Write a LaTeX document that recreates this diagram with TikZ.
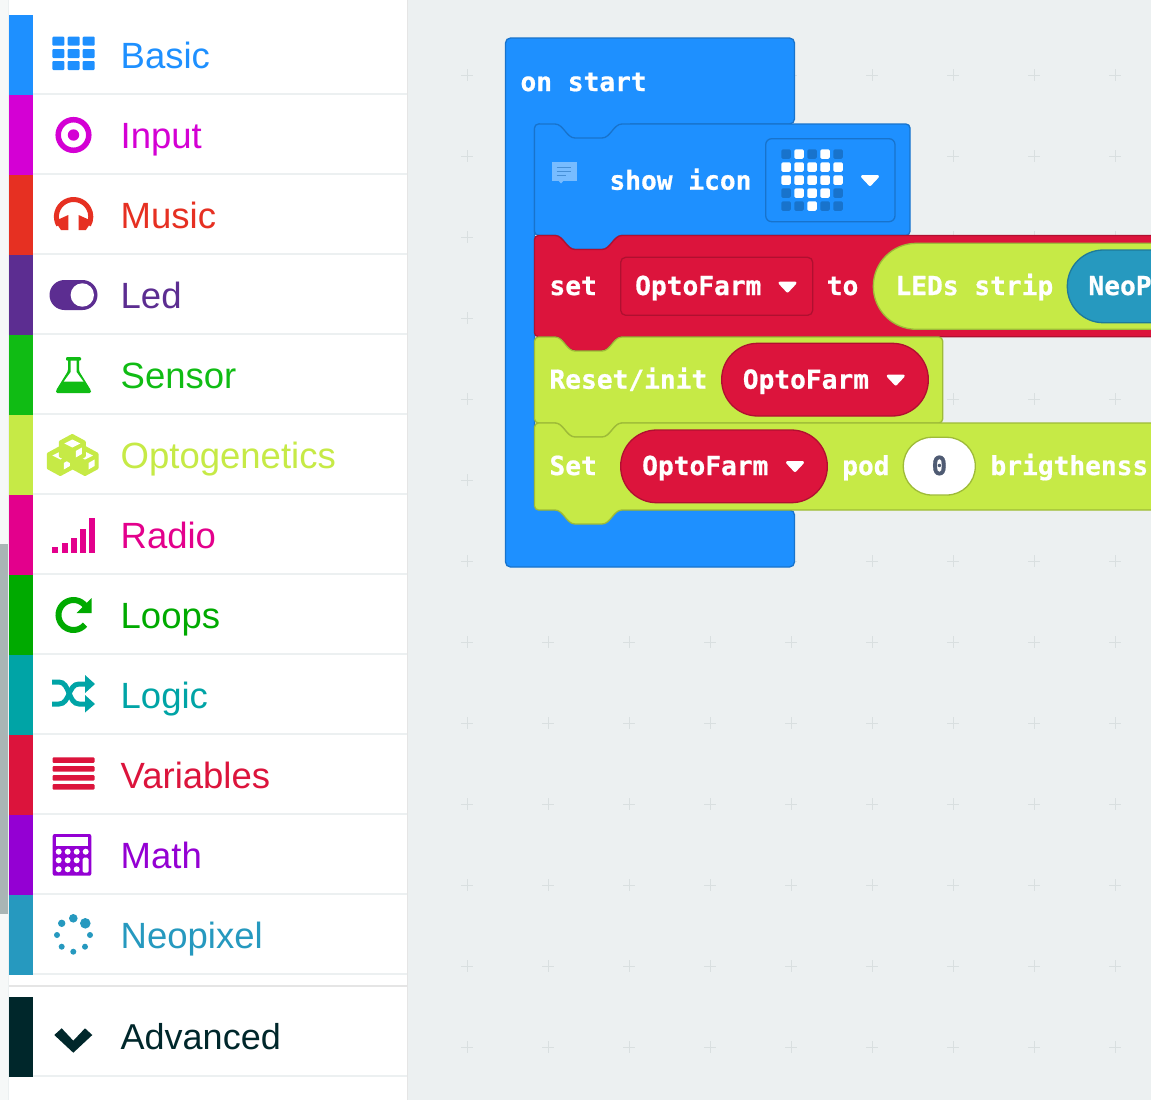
\documentclass[tikz,border=0pt]{standalone}
\usepackage{fontspec}
\setmainfont{Liberation Sans}
\newfontfamily\blockfont[BoldFeatures={FakeBold=0.7}]{DejaVu Sans Mono}
\definecolor{canvasbg}{HTML}{ECF0F1}
\definecolor{gridplus}{HTML}{D9DFE0}
\definecolor{cbasic}{HTML}{1E90FF}
\definecolor{dbasic}{HTML}{1873CC}
\definecolor{cinput}{HTML}{D400D4}
\definecolor{cmusic}{HTML}{E63022}
\definecolor{cled}{HTML}{5C2D91}
\definecolor{csensor}{HTML}{10BC14}
\definecolor{copto}{HTML}{C6EA46}
\definecolor{dopto}{HTML}{9EBB38}
\definecolor{cradio}{HTML}{E3008C}
\definecolor{cloops}{HTML}{00AA00}
\definecolor{clogic}{HTML}{00A4A6}
\definecolor{cvars}{HTML}{DC143C}
\definecolor{dvars}{HTML}{B01030}
\definecolor{cmath}{HTML}{9400D3}
\definecolor{cneo}{HTML}{2699BF}
\definecolor{dneo}{HTML}{1E7A99}
\definecolor{cadv}{HTML}{00272B}
\definecolor{cnum}{HTML}{4F5B73}
\definecolor{cscroll}{HTML}{A9B5B5}
\tikzset{
  catlabel/.style={anchor=base west,inner sep=0pt,font=\fontsize{36.5}{40}\selectfont},
  blocklabel/.style={anchor=base west,inner sep=0pt,text=white,font=\blockfont\bfseries\fontsize{26.2}{30}\selectfont},
  drop/.style={fill=white,draw=white,line width=3pt,line join=round},
}
\newcommand{\catrow}[4]{% name, colour, y top, text
  \fill[#2] (9,#3) rectangle (33,#3+80);
  \draw[canvasbg,line width=2pt] (33,#3+79) -- (407,#3+79);
  \node[catlabel,text=#2] (#1) at (120.5,#3+53) {#4};
}
\newcommand{\stmtblock}[6]{% x0, ytop, xright, ybot, fill, draw
  \draw[fill=#5,draw=#6,line width=1.3pt]
    (#1,#4-4) -- (#1,#2+4) arc[start angle=180,end angle=270,radius=4] -- (#1+20.5,#2)
    .. controls (#1+29,#2) and (#1+32,#2+14) .. (#1+40.5,#2+14)
    -- (#1+67.5,#2+14)
    .. controls (#1+76,#2+14) and (#1+79,#2) .. (#1+87.5,#2)
    -- (#3-4,#2) arc[start angle=270,end angle=360,radius=4] -- (#3,#4-4) arc[start angle=0,end angle=90,radius=4] -- (#1+87.5,#4)
    .. controls (#1+79,#4) and (#1+76,#4+14) .. (#1+67.5,#4+14)
    -- (#1+40.5,#4+14)
    .. controls (#1+32,#4+14) and (#1+29,#4) .. (#1+20.5,#4)
    -- (#1+4,#4) arc[start angle=90,end angle=180,radius=4] -- cycle;
}
\newcommand{\dropmark}[2]{% centre x, top y
  \filldraw[drop] (#1-7.5,#2+1.5) -- (#1+7.5,#2+1.5) -- (#1,#2+9.5) -- cycle;
}
\newcommand{\cubeicon}[2]{%
  \filldraw[fill=copto,draw=copto,line width=3pt,line join=round]
    (#1,#2-13.5) -- (#1+12,#2-7) -- (#1+12,#2+7) -- (#1,#2+13.5) -- (#1-12,#2+7) -- (#1-12,#2-7) -- cycle;
  \fill[white] (#1,#2-9.5) -- (#1+8,#2-5.5) -- (#1,#2-1.5) -- (#1-8,#2-5.5) -- cycle;
  \fill[white] (#1+3.5,#2+2) -- (#1+9.5,#2-1.5) -- (#1+9.5,#2+5) -- (#1+3.5,#2+8.5) -- cycle;
}
\begin{document}
\begin{tikzpicture}[x=1pt,y=1pt,yscale=-1]
\useasboundingbox (0,0) rectangle (1151,1100);
% backgrounds
\fill[white] (0,0) rectangle (408,1100);
\fill[canvasbg] (408,0) rectangle (1151,1100);
\fill[canvasbg!50!white] (0,0) rectangle (7.5,1100);
\fill[canvasbg] (7.5,0) rectangle (9,1100);
\fill[cscroll] (0,544) rectangle (7.5,914);
\draw[black!10,line width=1pt] (407.5,0) -- (407.5,1100);
% grid
\foreach \gx in {467,548,629,710,791,872,953,1034,1115}
  \foreach \gy in {75,156,237,318,399,480,561,642,723,804,885,966,1047}
    \draw[gridplus,line width=1pt] (\gx-6,\gy) -- (\gx+6,\gy) (\gx,\gy-6) -- (\gx,\gy+6);
% categories
\catrow{basic}{cbasic}{15}{Basic}
\catrow{input}{cinput}{95}{Input}
\catrow{music}{cmusic}{175}{Music}
\catrow{led}{cled}{255}{Led}
\catrow{sensor}{csensor}{335}{Sensor}
\catrow{opto}{copto}{415}{Optogenetics}
\catrow{radio}{cradio}{495}{Radio}
\catrow{loops}{cloops}{575}{Loops}
\catrow{logic}{clogic}{655}{Logic}
\catrow{vars}{cvars}{735}{Variables}
\catrow{math}{cmath}{815}{Math}
\catrow{neo}{cneo}{895}{Neopixel}
\draw[black!10,line width=2pt] (9,986) -- (407,986);
\fill[cadv] (9,997) rectangle (33,1077);
\draw[canvasbg,line width=2pt] (33,1076) -- (407,1076);
\node[catlabel,text=cadv,font=\fontsize{36}{40}\selectfont] (advanced) at (120.5,1049) {Advanced};
% icon: basic
\foreach \ix in {52.3,67.7,82.7}
  \foreach \iy in {36.7,49,61}
    \fill[cbasic,rounded corners=1pt] (\ix,\iy) rectangle (\ix+12,\iy+9);
% icon: input
\draw[cinput,line width=5.5pt] (73.5,135) circle[radius=15.3];
\fill[cinput] (73.5,135) circle[radius=5.7];
% icon: music
\draw[cmusic,line width=5pt] (73.6,216.7) ++(150:17.2) arc[start angle=150,end angle=390,radius=17.2];
\fill[cmusic] (68.3,215) -- (68.3,230) -- (61,230) -- (55,221) -- cycle;
\fill[cmusic] (78.6,215) -- (78.6,230) -- (85.9,230) -- (91.9,221) -- cycle;
% icon: led
\fill[cled,rounded corners=15pt] (49.5,280) rectangle (97.5,310);
\fill[white] (82.3,295) circle[radius=11.7];
% icon: sensor
\fill[csensor,rounded corners=1pt] (66,357) rectangle (81,360.5);
\fill[csensor,rounded corners=1.5pt] (68,359) -- (68,371) -- (56,390.5) -- (56,393) -- (91,393) -- (91,390.5) -- (79,371) -- (79,359) -- cycle;
\fill[white] (70.7,360.5) -- (76.5,360.5) -- (76.5,372) -- (83.5,381.7) -- (63.7,381.7) -- (70.7,372) -- cycle;
% icon: optogenetics
\cubeicon{60.3}{461}
\cubeicon{85}{461}
\cubeicon{72.3}{449}
% icon: radio
\fill[cradio] (52.3,546.7) rectangle (58.3,552.7);
\fill[cradio] (62.3,543) rectangle (68,552.7);
\fill[cradio] (70.7,538) rectangle (76.7,552.7);
\fill[cradio] (80,528.5) rectangle (85.7,552.7);
\fill[cradio] (89,517.5) rectangle (94.7,552.7);
% icon: loops
\draw[cloops,line width=6pt] (73.5,615) ++(-35:15) arc[start angle=-35,end angle=-320,radius=15];
\fill[cloops] (91.7,598) -- (91.7,613) -- (76.7,613) -- cycle;
% icon: logic
\draw[clogic,line width=5pt] (52,682) -- (59,682) .. controls (70,682) and (68,704) .. (79,704) -- (87,704);
\draw[clogic,line width=5pt] (52,704) -- (59,704) .. controls (70,704) and (68,684) .. (79,684) -- (87,684);
\fill[clogic] (85,675) -- (95,684) -- (85,693) -- cycle;
\fill[clogic] (85,695) -- (95,704) -- (85,712.5) -- cycle;
% icon: variables
\foreach \iy in {757.3,766,775,784}
  \fill[cvars,rounded corners=1pt] (52.5,\iy) rectangle (94.5,\iy+5.6);
% icon: math
\fill[cmath,rounded corners=2pt] (52.7,834) rectangle (91.3,875.7);
\fill[white] (55.7,837.3) rectangle (88.3,845.7);
\foreach \ix in {58.7,67.7,76.7}
  \foreach \iy in {851.7,860.3,869.3}
    \fill[white] (\ix,\iy) circle[radius=3];
\fill[white] (85.7,851.7) circle[radius=3];
\fill[white,rounded corners=1.5pt] (82.7,857.7) rectangle (88.7,872.7);
% icon: neopixel
\fill[cneo] (73.3,918.3) circle[radius=4.3];
\fill[cneo] (85.3,923.3) circle[radius=5.3];
\fill[cneo] (90,935) circle[radius=3];
\fill[cneo] (85,946.7) circle[radius=3];
\fill[cneo] (73.3,951.7) circle[radius=3];
\fill[cneo] (61.7,946.7) circle[radius=3];
\fill[cneo] (57,935) circle[radius=3];
\fill[cneo] (61.7,923.3) circle[radius=3.7];
% icon: advanced
\fill[cadv] (61.7,1028.3) -- (73.3,1040.7) -- (85,1028.3) -- (92.3,1035) -- (73.3,1052.7) -- (54.3,1035) -- cycle;
% blocks
\begin{scope}
\clip (408,0) rectangle (1151,1100);
\draw[fill=cbasic,draw=dbasic,line width=1.3pt,rounded corners=5pt]
  (505.5,38) -- (794.5,38) -- (794.5,124) -- (534.5,124) -- (534.5,510) -- (794.5,510) -- (794.5,567) -- (505.5,567) -- cycle;
\fill[cbasic] (540,118) rectangle (630,145);
\node[blocklabel] (onstart) at (520.3,91) {on start};
% show icon
\stmtblock{534.5}{124}{910}{235.3}{cbasic}{dbasic}
\fill[cbasic!60!white] (552.3,162.3) rectangle (577,180.7);
\fill[cbasic!60!white] (558.5,180.7) -- (561,183.5) -- (563.5,180.7) -- cycle;
\draw[dbasic!80!white,line width=1pt] (556.7,167.3) -- (571,167.3) (556.7,171) -- (571,171) (556.7,175) -- (566,175);
\node[blocklabel] (showicon) at (609.3,189.7) {show icon};
\draw[fill=cbasic,draw=dbasic,line width=1.3pt,rounded corners=6pt] (765.7,138.7) rectangle (895,221.7);
\foreach \rowy/\rowbits in {0/{0,1,0,1,0},1/{1,1,1,1,1},2/{1,1,1,1,1},3/{0,1,1,1,0},4/{0,0,1,0,0}}{
  \foreach \bit [count=\colx from 0] in \rowbits {
    \ifnum\bit=1 \def\ledc{white}\else\def\ledc{dbasic}\fi
    \fill[\ledc,rounded corners=1.5pt] (781.3+13*\colx,149.3+13*\rowy) rectangle (790.8+13*\colx,158.9+13*\rowy);
  }
}
\dropmark{870}{175}
% set ... to
\stmtblock{534.5}{235.5}{1200}{336.7}{cvars}{dvars}
\node[blocklabel] (setvar) at (549.3,295) {set};
\draw[fill=cvars,draw=dvars,line width=1.3pt,rounded corners=5pt] (620.7,257.3) rectangle (812.7,315.3);
\node[blocklabel] (optoa) at (635,295) {OptoFarm};
\dropmark{787.5}{281.5}
\node[blocklabel] (tolabel) at (826.6,295) {to};
\draw[fill=copto,draw=dopto,line width=1.3pt,rounded corners=43pt] (873.3,243.3) rectangle (1400,329.3);
\node[blocklabel] (ledsstrip) at (895.3,295) {LEDs strip};
\draw[fill=cneo,draw=dneo,line width=1.3pt,rounded corners=36pt] (1067.3,250) rectangle (1400,322.7);
\node[blocklabel] (neop) at (1088.3,295) {NeoP};
% reset/init
\stmtblock{534.5}{337}{942.7}{423}{copto}{dopto}
\node[blocklabel] (resetinit) at (549.3,388.7) {Reset/init};
\draw[fill=cvars,draw=dvars,line width=1.3pt,rounded corners=36pt] (721.7,343.3) rectangle (928.3,416);
\node[blocklabel] (optob) at (742.6,388.7) {OptoFarm};
\dropmark{895.7}{374.5}
% set pod
\stmtblock{534.5}{423}{1200}{510}{copto}{dopto}
\node[blocklabel] (setpod) at (549.3,475) {Set};
\draw[fill=cvars,draw=dvars,line width=1.3pt,rounded corners=36pt] (620.7,430) rectangle (827.3,502.7);
\node[blocklabel] (optoc) at (642,475) {OptoFarm};
\dropmark{795}{461}
\node[blocklabel] (pod) at (842,475) {pod};
\draw[fill=white,draw=dopto,line width=1.3pt,rounded corners=28.5pt] (903.3,437.3) rectangle (975.3,495);
\node[blocklabel,text=cnum] (zero) at (931.3,475) {0};
\node[blocklabel] (brig) at (990.3,475) {brigthenss};
\end{scope}
\end{tikzpicture}
\end{document}
